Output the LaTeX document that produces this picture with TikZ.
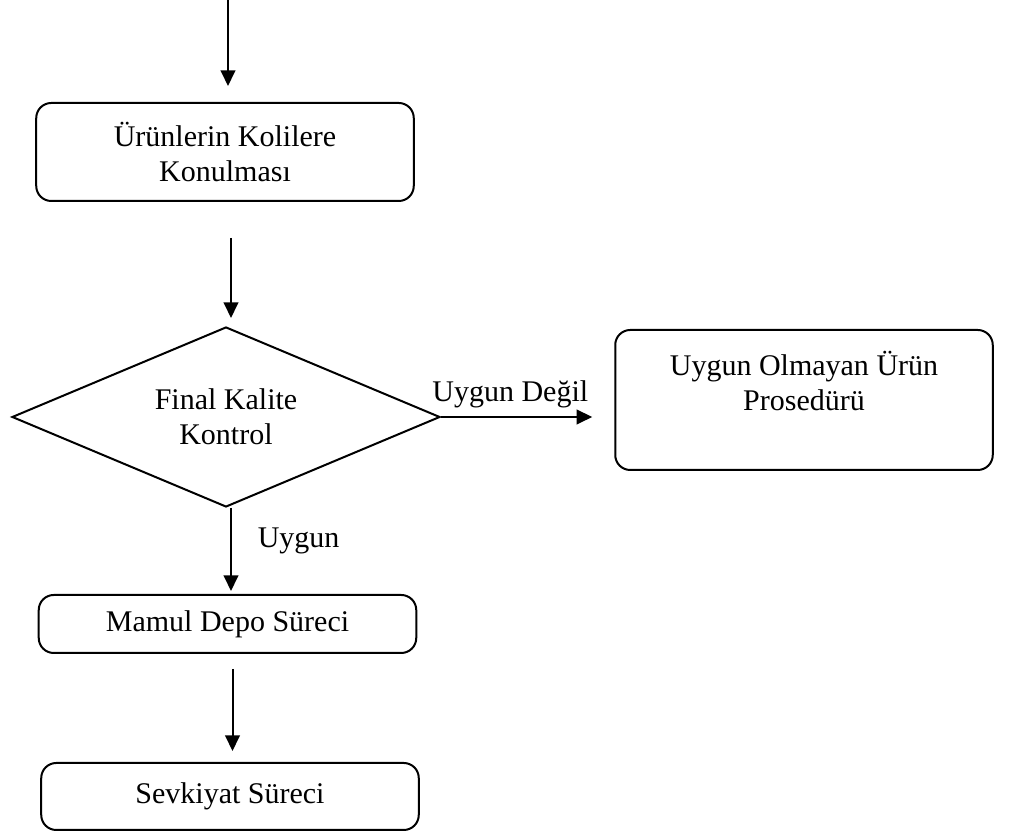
\documentclass[tikz,border=0pt]{standalone}
\usepackage{fontspec}
\setmainfont{Liberation Serif}
\usetikzlibrary{shapes.geometric,arrows.meta}

\begin{document}
\begin{tikzpicture}[x=0.4pt,y=-0.4pt,
    every node/.style={font=\fontsize{12}{14}\selectfont},
    kutu/.style={draw,rounded corners=6pt,line width=0.8pt,align=center,minimum width=151pt},
    karar/.style={draw,diamond,aspect=2.4,inner sep=0pt,line width=0.8pt,align=center,minimum width=171.2pt,minimum height=72pt},
    ok/.style={-{Triangle[length=6.2pt,width=5.8pt]},line width=0.8pt}]
            \useasboundingbox (0,0) rectangle (1015,837);
            \coordinate (giris) at (228,0);
            \node[kutu,minimum height=39.2pt] (koli) at (225,152) {Ürünlerin Kolilere\\Konulması};
            \node[karar] (kontrol) at (226,417) {Final Kalite\\Kontrol};
            \node[kutu,minimum height=56pt] (uygunsuz) at (804,400) {};
            \node[align=center,yshift=7.6pt] at (uygunsuz.center) {Uygun Olmayan Ürün\\Prosedürü};
            \node[kutu,minimum height=23.2pt] (depo) at (227.5,624) {Mamul Depo Süreci};
            \node[kutu,minimum height=26.8pt] (sevk) at (230,796.5) {Sevkiyat Süreci};
            \draw[ok,shorten >=6.4pt] (giris) -- (giris |- koli.north);
            \draw[ok,shorten <=14.4pt,shorten >=3.2pt] ([xshift=2.4pt]koli.south) -- ([xshift=2.4pt]koli.south |- kontrol.north);
            \draw[ok,shorten >=8.8pt] (kontrol.east) -- node[above,pos=0.4] {Uygun Değil} (uygunsuz.west |- kontrol.east);
            \draw[ok,shorten >=1.2pt] ([xshift=2pt]kontrol.south) -- node[right=7pt,pos=0.38] {Uygun} ([xshift=2pt]kontrol.south |- depo.north);
            \draw[ok,shorten <=6pt,shorten >=4.4pt] ([xshift=2pt]depo.south) -- ([xshift=2pt]depo.south |- sevk.north);
        \end{tikzpicture}
\end{document}
